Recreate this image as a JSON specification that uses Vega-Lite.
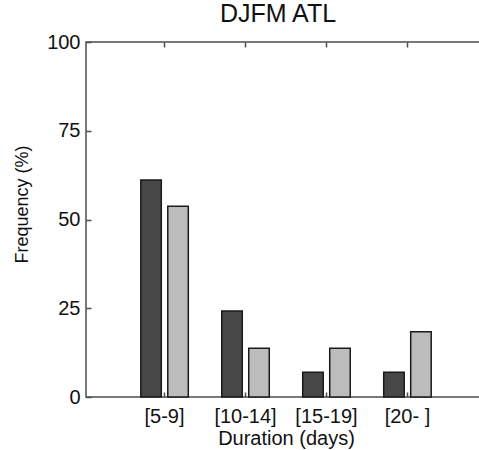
{
  "$schema": "https://vega.github.io/schema/vega-lite/v6.json",
  "width": 400,
  "height": 355,
  "autosize": {"type": "none"},
  "padding": {"left": 86, "top": 42, "right": 0, "bottom": 53},
  "background": "white",
  "title": {"text": "DJFM ATL", "fontSize": 25, "font": "Liberation Sans", "fontWeight": "normal", "color": "#111111", "dx": -8, "offset": 5},
  "data": {"values": [
    {"duration": "[5-9]", "set": "s1", "freq": 61.1},
    {"duration": "[5-9]", "set": "s2", "freq": 53.7},
    {"duration": "[10-14]", "set": "s1", "freq": 24.2},
    {"duration": "[10-14]", "set": "s2", "freq": 13.7},
    {"duration": "[15-19]", "set": "s1", "freq": 7.0},
    {"duration": "[15-19]", "set": "s2", "freq": 13.7},
    {"duration": "[20- ]", "set": "s1", "freq": 7.0},
    {"duration": "[20- ]", "set": "s2", "freq": 18.4}
  ]},
  "config": {
    "view": {"stroke": "#4d4d4d", "strokeWidth": 1.5},
    "axis": {"labelFont": "Liberation Sans", "titleFont": "Liberation Sans", "labelColor": "#111111", "titleColor": "#111111", "grid": false, "domain": false, "tickColor": "#4d4d4d", "tickWidth": 1.5, "titleFontWeight": "normal"}
  },
  "resolve": {"axis": {"x": "independent"}},
  "layer": [
    {
      "mark": {"type": "bar", "stroke": "#1a1a1a", "strokeWidth": 1.5},
      "encoding": {
        "x": {"field": "duration", "type": "nominal", "sort": ["[5-9]", "[10-14]", "[15-19]", "[20- ]"],
              "scale": {"paddingInner": 0, "paddingOuter": 0.47},
              "axis": {"title": "Duration (days)", "labelAngle": 0, "tickSize": -5, "labelPadding": 14, "labelFontSize": 20, "titleFontSize": 20, "titlePadding": 2}},
        "xOffset": {"field": "set", "type": "nominal", "scale": {"paddingInner": 0.24, "paddingOuter": 0.62}},
        "y": {"field": "freq", "type": "quantitative", "scale": {"domain": [0, 100]},
              "axis": {"values": [0, 25, 50, 75, 100], "title": "Frequency (%)", "tickSize": -5, "labelPadding": 11, "labelFontSize": 20, "titleFontSize": 18, "titlePadding": 15, "titleY": 162}},
        "color": {"field": "set", "type": "nominal", "scale": {"range": ["#474747", "#bcbcbc"]}, "legend": null}
      }
    },
    {
      "mark": {"type": "bar", "opacity": 0},
      "encoding": {
        "x": {"field": "duration", "type": "nominal", "sort": ["[5-9]", "[10-14]", "[15-19]", "[20- ]"],
              "axis": {"orient": "top", "title": null, "labels": false, "tickSize": -5}},
        "xOffset": {"field": "set", "type": "nominal"},
        "y": {"field": "freq", "type": "quantitative"}
      }
    }
  ]
}
